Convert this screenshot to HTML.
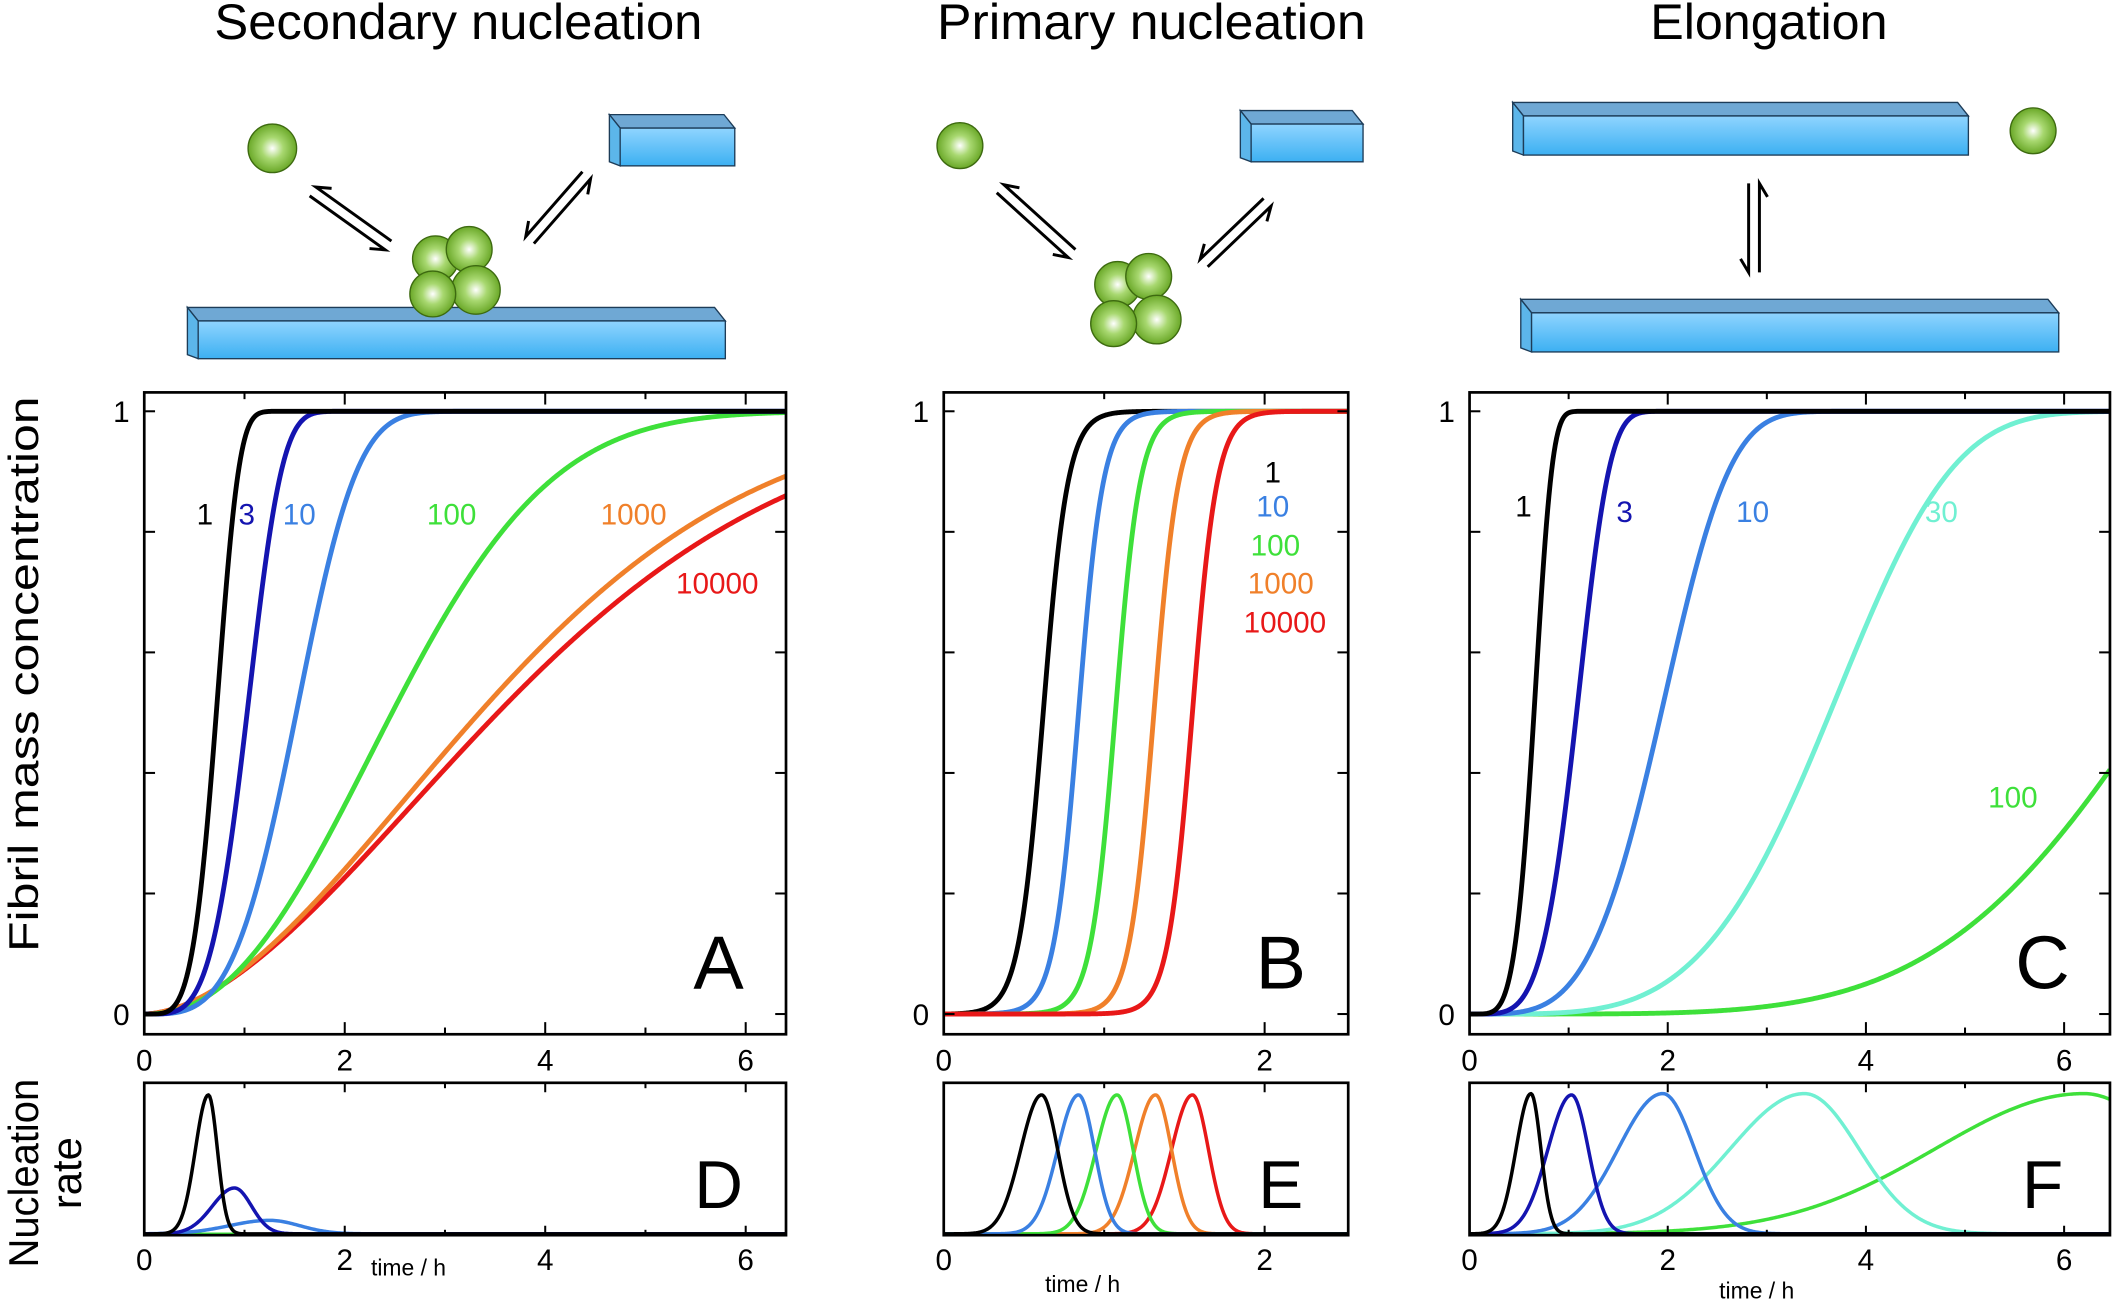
<!DOCTYPE html>
<html><head><meta charset="utf-8">
<style>
html,body{margin:0;padding:0;background:#fff;}
svg{display:block;}
text{font-family:"Liberation Sans",sans-serif;}
</style></head>
<body>
<svg id="s" width="2114" height="1308" viewBox="0 0 1568 970" preserveAspectRatio="none" xmlns="http://www.w3.org/2000/svg">
<defs>
<radialGradient id="sph" cx="0.5" cy="0.5" r="0.5">
<stop offset="0" stop-color="#ffffff"/><stop offset="0.45" stop-color="#a8d870"/><stop offset="1" stop-color="#6aa828"/>
</radialGradient>
<linearGradient id="front" x1="0" y1="0" x2="0" y2="1">
<stop offset="0" stop-color="#8fd4ff"/><stop offset="1" stop-color="#3cb0f2"/>
</linearGradient>
</defs>
<g id="titles" font-size="37" text-anchor="middle" fill="#000">
<text x="340" y="29" textLength="362" lengthAdjust="spacingAndGlyphs">Secondary nucleation</text>
<text x="854" y="29" textLength="318" lengthAdjust="spacingAndGlyphs">Primary nucleation</text>
<text x="1312" y="29" textLength="176" lengthAdjust="spacingAndGlyphs">Elongation</text>
</g>
<g id="ill"></g>
<g id="plots"></g>
<g font-size="31" fill="#000">
<text transform="translate(28,500) rotate(-90)" text-anchor="middle" textLength="412" lengthAdjust="spacingAndGlyphs">Fibril mass concentration</text>
<text transform="translate(28,870) rotate(-90)" text-anchor="middle" textLength="140" lengthAdjust="spacingAndGlyphs">Nucleation</text>
<text transform="translate(60,870) rotate(-90)" text-anchor="middle">rate</text>
</g>
</svg>
<script>
var NS="http://www.w3.org/2000/svg";
function el(p,tag,a,txt){var e=document.createElementNS(NS,tag);for(var k in a)e.setAttribute(k,a[k]);if(txt!==undefined)e.textContent=txt;p.appendChild(e);return e;}
var ill=document.getElementById('ill'),P=document.getElementById('plots');
function sphere(x,y,r){el(ill,'circle',{cx:x,cy:y,r:r,fill:'url(#sph)',stroke:'#3d6a10','stroke-width':1});}
function box(x1,y1,x2,y2,d){
  el(ill,'polygon',{points:[x1,y1,x1-8,y1-d,x2-8,y1-d,x2,y1].join(' '),fill:'#6fa8d4',stroke:'#1d3c58','stroke-width':1});
  el(ill,'polygon',{points:[x1,y1,x1-8,y1-d,x1-8,y2-d*0.3,x1,y2].join(' '),fill:'#5cb6ea',stroke:'#1d3c58','stroke-width':1});
  el(ill,'rect',{x:x1,y:y1,width:x2-x1,height:y2-y1,fill:'url(#front)',stroke:'#1d3c58','stroke-width':1});
}
function harp(x1,y1,x2,y2){
  var dx=x2-x1,dy=y2-y1,L=Math.hypot(dx,dy),ux=dx/L,uy=dy/L,nx=-uy,ny=ux,o=4;
  var a=[x1+nx*o,y1+ny*o],b=[x2+nx*o,y2+ny*o];
  el(ill,'polyline',{points:[a[0],a[1],b[0],b[1],b[0]-ux*10+nx*6,b[1]-uy*10+ny*6].join(' '),fill:'none',stroke:'#000','stroke-width':2.2});
  var c=[x2-nx*o,y2-ny*o],d=[x1-nx*o,y1-ny*o];
  el(ill,'polyline',{points:[c[0],c[1],d[0],d[1],d[0]+ux*10-nx*6,d[1]+uy*10-ny*6].join(' '),fill:'none',stroke:'#000','stroke-width':2.2});
}
box(147,238,538,266,10);
sphere(202,110,18);
box(460,95,545,123,10);
harp(232,142,288,182);
harp(435,130,393,178);
sphere(323,192,17);sphere(348,185,17);sphere(353,215,18);sphere(321,218,17);
sphere(712,108,17);
box(928,92,1011,120,10);
harp(742,140,795,188);
harp(940,150,893,195);
sphere(829,211,17);sphere(852,205,17);sphere(858,237,18);sphere(826,240,17);
box(1130,86,1460,115,10);
sphere(1508,97,17);
box(1136,232,1527,261,10);
harp(1301,136,1301,202);

var W=function(t,tau,n){return 1-Math.exp(-Math.pow(t/tau,n));};
var L=function(t,m,k){var v=1/(1+Math.exp(-k*(t-m)));var v0=1/(1+Math.exp(k*m));return (v-v0)/(1-v0);};
function panel(x0,x1,sx,ticksMaj,ticksMin,curves,letter,labels){
  var yT=291,yB=767,y0=752,y1=305;
  var cid='c'+x0;
  var cp=el(P,'clipPath',{id:cid});el(cp,'rect',{x:x0,y:yT,width:x1-x0,height:yB-yT});
  var g=el(P,'g',{'clip-path':'url(#'+cid+')'});
  curves.forEach(function(c){var d='';for(var i=0;i<=500;i++){var t=(x1-x0)/sx*i/500;var f=c.f(t);d+=(i?'L':'M')+(x0+t*sx).toFixed(2)+' '+(y0-f*(y0-y1)).toFixed(2);}
    el(g,'path',{d:d,fill:'none',stroke:c.c,'stroke-width':3.6,'stroke-linejoin':'round'});});
  el(P,'rect',{x:x0,y:yT,width:x1-x0,height:yB-yT,fill:'none',stroke:'#000','stroke-width':2});
  for(var j=0;j<6;j++){var y=y0-j*(y0-y1)/5;el(P,'line',{x1:x0,y1:y,x2:x0+8,y2:y,stroke:'#000','stroke-width':1.5});el(P,'line',{x1:x1,y1:y,x2:x1-8,y2:y,stroke:'#000','stroke-width':1.5});}
  ticksMaj.forEach(function(t){var x=x0+t*sx;el(P,'line',{x1:x,y1:yB,x2:x,y2:yB-9,stroke:'#000','stroke-width':1.5});el(P,'line',{x1:x,y1:yT,x2:x,y2:yT+9,stroke:'#000','stroke-width':1.5});el(P,'text',{x:x,y:yB+27,'font-size':22,'text-anchor':'middle'},String(t));});
  ticksMin.forEach(function(t){var x=x0+t*sx;el(P,'line',{x1:x,y1:yB,x2:x,y2:yB-5,stroke:'#000','stroke-width':1.5});el(P,'line',{x1:x,y1:yT,x2:x,y2:yT+5,stroke:'#000','stroke-width':1.5});});
  el(P,'text',{x:x0-17,y:y1+8,'font-size':22,'text-anchor':'middle'},'1');
  el(P,'text',{x:x0-17,y:y0+8,'font-size':22,'text-anchor':'middle'},'0');
  el(P,'text',{x:x1-50,y:733,'font-size':56,'text-anchor':'middle'},letter);
  labels.forEach(function(l){el(P,'text',{x:l[0],y:l[1],'font-size':22,'text-anchor':'middle',fill:l[3]},l[2]);});
}
function rpanel(x0,x1,sx,ticksMaj,ticksMin,curves,letter,tlab){
  var yT=803,yB=916,base=915;
  var cid='r'+x0;
  var cp=el(P,'clipPath',{id:cid});el(cp,'rect',{x:x0,y:yT,width:x1-x0,height:yB-yT});
  var g=el(P,'g',{'clip-path':'url(#'+cid+')'});
  curves.forEach(function(c){var d='';var T=(x1-x0)/sx;for(var i=0;i<=500;i++){var t=T*i/500;var v=c.f(t);d+=(i?'L':'M')+(x0+t*sx).toFixed(2)+' '+(base-v).toFixed(2);}
    el(g,'path',{d:d,fill:'none',stroke:c.c,'stroke-width':c.w||2.6,'stroke-linejoin':'round'});});
  el(P,'rect',{x:x0,y:yT,width:x1-x0,height:yB-yT,fill:'none',stroke:'#000','stroke-width':2});
  ticksMaj.forEach(function(t){var x=x0+t*sx;el(P,'line',{x1:x,y1:yB,x2:x,y2:yB-7,stroke:'#000','stroke-width':1.5});el(P,'line',{x1:x,y1:yT,x2:x,y2:yT+7,stroke:'#000','stroke-width':1.5});el(P,'text',{x:x,y:yB+26,'font-size':22,'text-anchor':'middle'},String(t));});
  ticksMin.forEach(function(t){var x=x0+t*sx;el(P,'line',{x1:x,y1:yB,x2:x,y2:yB-4,stroke:'#000','stroke-width':1.5});el(P,'line',{x1:x,y1:yT,x2:x,y2:yT+4,stroke:'#000','stroke-width':1.5});});
  el(P,'text',{x:x1-50,y:896,'font-size':50,'text-anchor':'middle'},letter);
  el(P,'text',{x:tlab[0],y:tlab[1],'font-size':17,'text-anchor':'middle'},'time / h');
}
var BK='#000',DB='#1414b0',LB='#3a80e2',GR='#3ee03a',OR='#f0802a',RD='#e81818',CY='#70f0d2';
function ag(m,sl,sr,h){return function(t){var s=t<m?sl:sr;return h*Math.exp(-0.5*Math.pow((t-m)/s,2));};}
panel(107,583,74.35,[0,2,4,6],[1,3,5],[
 {c:RD,f:function(t){return W(t,4.35,1.75);}},
 {c:OR,f:function(t){return W(t,4.1,1.8);}},
 {c:GR,f:function(t){return W(t,2.9,2.3);}},
 {c:LB,f:function(t){return W(t,1.68,3.6);}},
 {c:DB,f:function(t){return W(t,1.12,4.2);}},
 {c:BK,f:function(t){return W(t,0.78,4.5);}}
],'A',[[152,389,'1',BK],[183,389,'3',DB],[222,389,'10',LB],[335,389,'100',GR],[470,389,'1000',OR],[532,440,'10000',RD]]);
panel(700,1000,119,[0,2],[1],[
 {c:BK,f:function(t){return L(t,0.62,13);}},
 {c:LB,f:function(t){return L(t,0.84,13);}},
 {c:GR,f:function(t){return L(t,1.07,13);}},
 {c:OR,f:function(t){return L(t,1.31,13);}},
 {c:RD,f:function(t){return L(t,1.55,13);}}
],'B',[[944,358,'1',BK],[944,383,'10',LB],[946,412,'100',GR],[950,440,'1000',OR],[953,469,'10000',RD]]);
panel(1090,1565,73.5,[0,2,4,6],[1,3,5],[
 {c:GR,f:function(t){return W(t,7.4,4.83);}},
 {c:CY,f:function(t){return W(t,3.97,4.2);}},
 {c:LB,f:function(t){return W(t,2.12,4.0);}},
 {c:DB,f:function(t){return W(t,1.17,4.6);}},
 {c:BK,f:function(t){return W(t,0.7,5);}}
],'C',[[1130,383,'1',BK],[1205,387,'3',DB],[1300,387,'10',LB],[1440,387,'30',CY],[1493,599,'100',GR]]);
rpanel(107,583,74.35,[0,2,4,6],[1,3,5],[
 {c:GR,f:function(t){return 0;},w:2},
 {c:LB,f:ag(1.25,0.4,0.3,10)},
 {c:DB,f:ag(0.9,0.22,0.17,34)},
 {c:BK,f:ag(0.64,0.13,0.09,103)}
],'D',[303,946]);
rpanel(700,1000,119,[0,2],[1],[
 {c:RD,f:ag(1.55,0.13,0.1,103)},
 {c:OR,f:ag(1.32,0.13,0.1,103)},
 {c:GR,f:ag(1.08,0.13,0.1,103)},
 {c:LB,f:ag(0.84,0.13,0.1,103)},
 {c:BK,f:ag(0.61,0.13,0.1,103)}
],'E',[803,958]);
rpanel(1090,1565,73.5,[0,2,4,6],[1,3,5],[
 {c:GR,f:ag(6.2,1.5,0.9,104)},
 {c:CY,f:ag(3.38,0.75,0.55,104)},
 {c:LB,f:ag(1.95,0.45,0.32,104)},
 {c:DB,f:ag(1.03,0.24,0.17,103)},
 {c:BK,f:ag(0.62,0.15,0.1,104)}
],'F',[1303,963]);
</script>
</body></html>
